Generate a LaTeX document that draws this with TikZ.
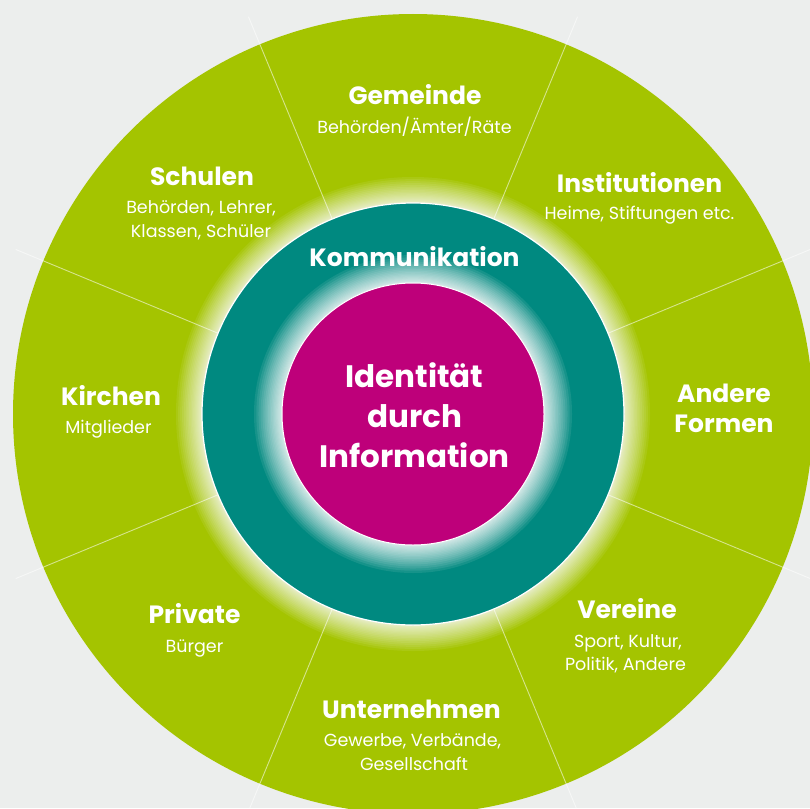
\documentclass[tikz,border=0pt]{standalone}
\usepackage{fontspec}
\newfontfamily\ttlfont{Poppins Bold}
\newfontfamily\subfnt{Poppins}
\definecolor{bg}{RGB}{236,238,237}
\definecolor{lime}{RGB}{164,196,0}
\definecolor{tealc}{RGB}{0,137,128}
\definecolor{magc}{RGB}{190,0,122}
\begin{document}
\begin{tikzpicture}[x=1pt,y=-1pt,
  ttl/.style={text=white, font=\ttlfont\fontsize{25}{30}\selectfont, anchor=base, inner sep=0pt},
  sub/.style={text=white, font=\subfnt\fontsize{17.5}{22}\selectfont, anchor=base, inner sep=0pt},
  ctr/.style={text=white, font=\ttlfont\fontsize{31}{36}\selectfont, anchor=base, inner sep=0pt},
  divider/.style={white, opacity=0.55, line width=0.9pt}]
\useasboundingbox (0,0) rectangle (810,808);
\clip (0,0) rectangle (810,808);
\fill[bg] (0,0) rectangle (810,808);
\coordinate (C) at (413,414);
% outer ring
\fill[lime] (C) circle[radius=400pt];
\foreach \j in {0,...,24} \fill[white, opacity=0.075] (C) circle[radius={(211+26*(\j/24)^2)*1pt}];
\foreach \a [count=\k] in {22.5,67.5,...,337.5} {
  \coordinate (in\k) at ([shift={(\a:211)}]C);
  \coordinate (out\k) at ([shift={(\a:430)}]C);
  \draw[divider] (in\k) -- (out\k);
}
% teal ring
\fill[tealc] (C) circle[radius=211pt];
\foreach \j in {0,...,24} \fill[white, opacity=0.085] (C) circle[radius={(131+28*(\j/24)^2)*1pt}];
\draw[white, line width=1.2pt] (C) circle[radius=211pt];
% core
\fill[magc] (C) circle[radius=131pt];
\draw[white, line width=1pt] (C) circle[radius=131pt];
% labels
\node[ttl] (gemT) at (415,104) {Gemeinde};
\node[sub] (gemS) at (414.5,133) {Behörden/Ämter/Räte};
\node[ttl] (schT) at (202,185) {Schulen};
\node[sub] (schS1) at (201,213) {Behörden, Lehrer,};
\node[sub] (schS2) at (201,237) {Klassen, Schüler};
\node[ttl] (insT) at (639.5,192) {Institutionen};
\node[sub] (insS) at (639.5,219) {Heime, Stiftungen etc.};
\node[ttl] (kirT) at (111,405) {Kirchen};
\node[sub] (kirS) at (108.5,433) {Mitglieder};
\node[ttl] (andT1) at (724,402) {Andere};
\node[ttl] (andT2) at (724,432) {Formen};
\node[ttl] (priT) at (194.5,623) {Private};
\node[sub] (priS) at (194.5,652) {Bürger};
\node[ttl] (untT) at (411.5,718) {Unternehmen};
\node[sub] (untS1) at (412.5,746) {Gewerbe, Verbände,};
\node[sub] (untS2) at (414,770) {Gesellschaft};
\node[ttl] (verT) at (627,618) {Vereine};
\node[sub] (verS1) at (628,647) {Sport, Kultur,};
\node[sub] (verS2) at (625.5,670) {Politik, Andere};
\node[ttl] (komT) at (414.5,266) {Kommunikation};
\node[ctr] (id1) at (414.5,387) {Identität};
\node[ctr] (id2) at (414.5,427) {durch};
\node[ctr] (id3) at (414.5,467) {Information};
\end{tikzpicture}
\end{document}
